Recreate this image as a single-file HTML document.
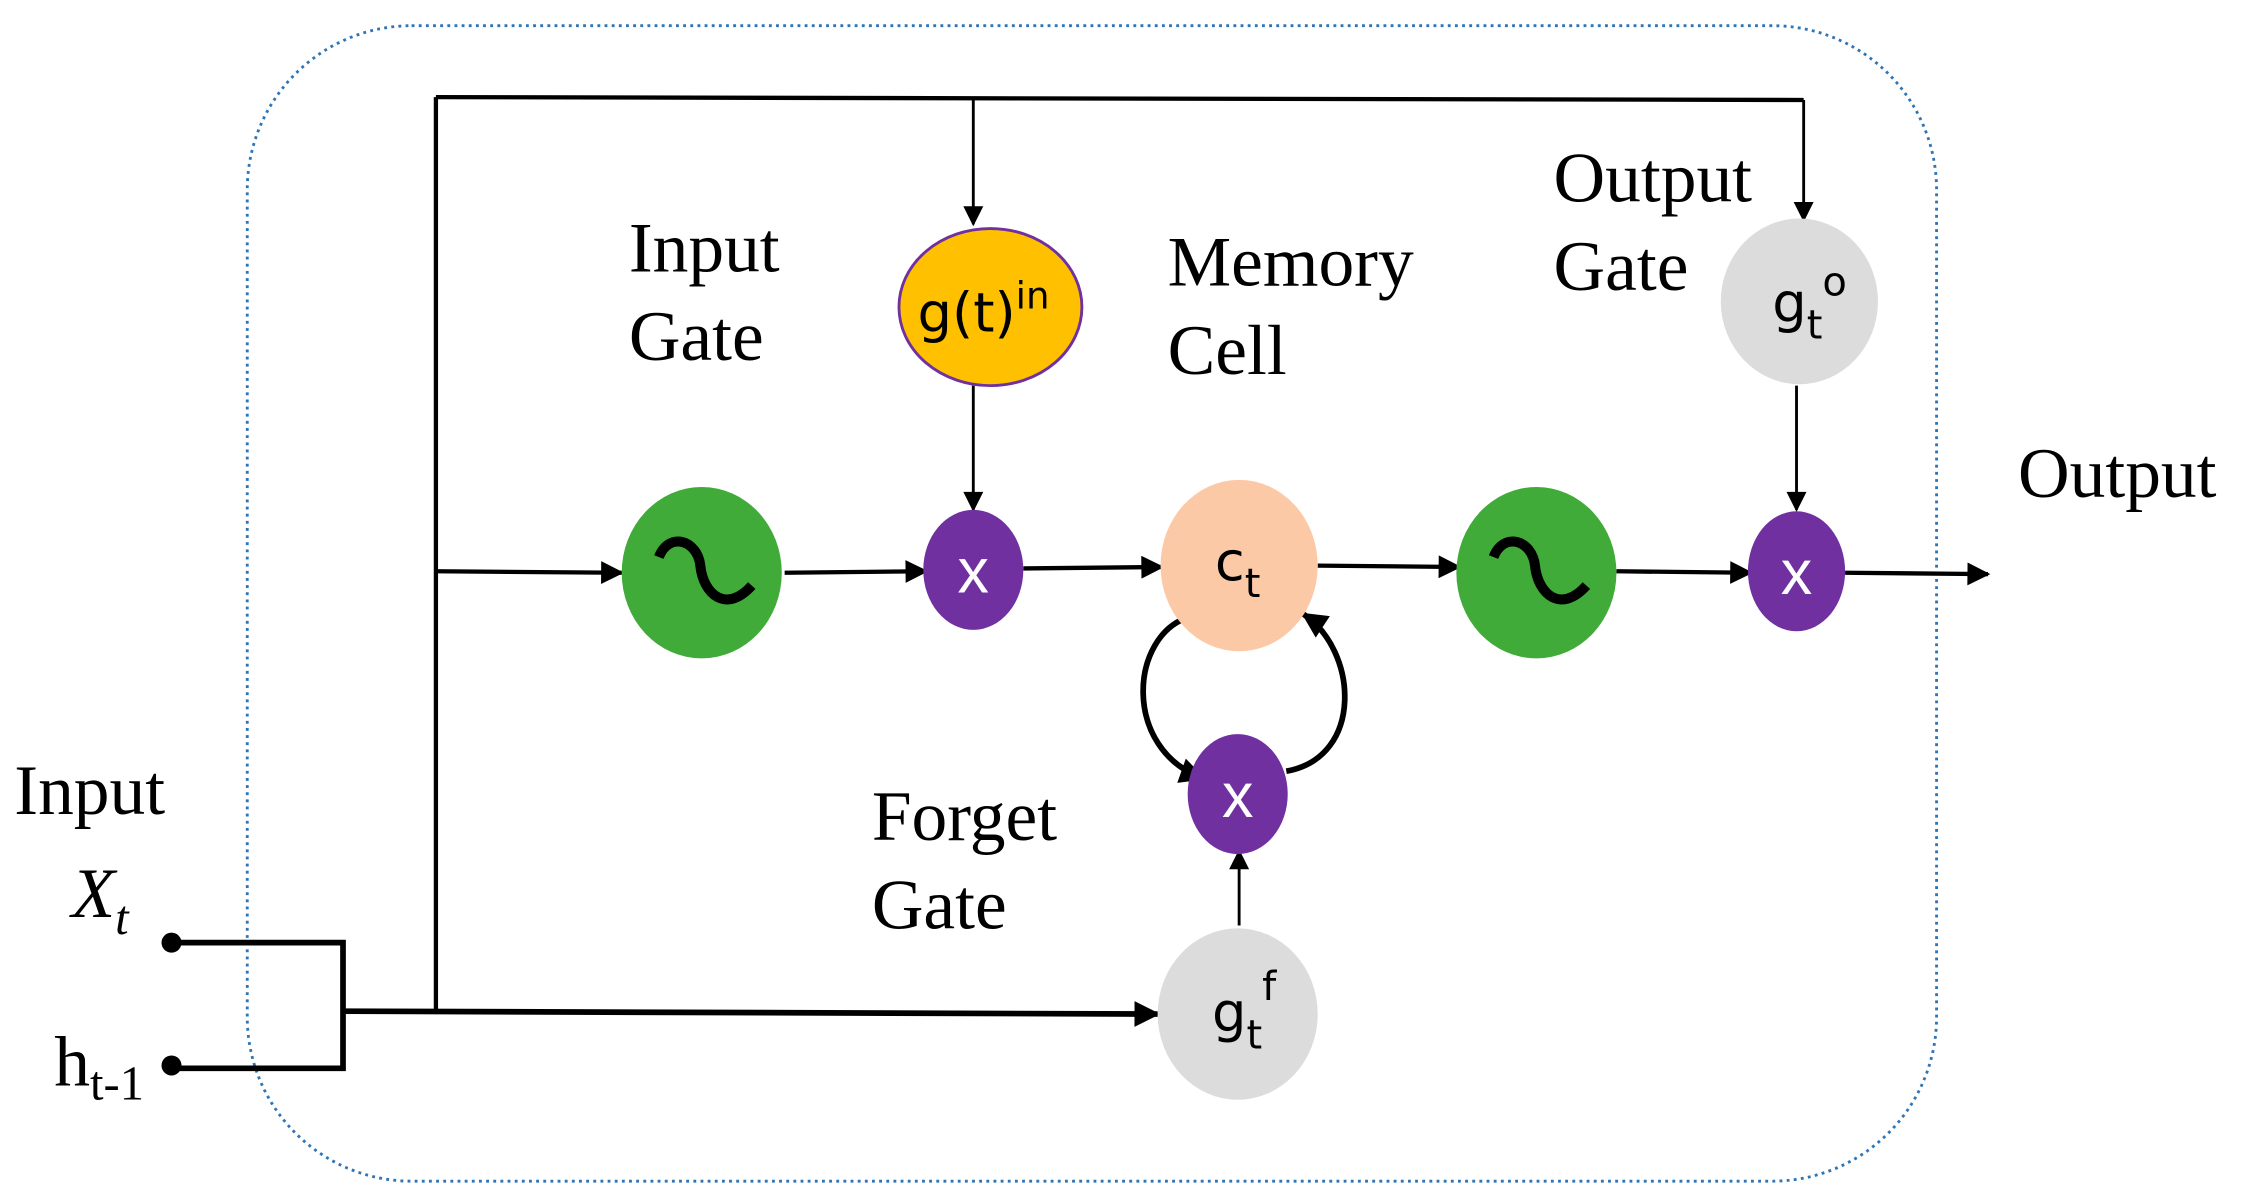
<!DOCTYPE html>
<html><head><meta charset="utf-8"><style>
html,body{margin:0;padding:0;background:#fff;}
svg{display:block;}
.s{font-family:"Liberation Serif",serif;font-size:50px;fill:#000;}
.n{font-family:"DejaVu Sans","Liberation Sans",sans-serif;fill:#000;}
.w{font-family:"Liberation Sans",sans-serif;fill:#fff;font-size:44px;}
</style></head><body>
<svg width="2241" height="1204" viewBox="0 0 1568 843" preserveAspectRatio="none" xmlns="http://www.w3.org/2000/svg">
<defs>
<marker id="a" viewBox="0 0 10 10" refX="9" refY="5" markerWidth="18" markerHeight="16" orient="auto" markerUnits="userSpaceOnUse"><path d="M0,0 L10,5 L0,10 z" fill="#000"/></marker>
<marker id="c" viewBox="0 0 10 10" refX="9" refY="5" markerWidth="16" markerHeight="14" orient="auto" markerUnits="userSpaceOnUse"><path d="M0,0 L10,5 L0,10 z" fill="#000"/></marker>
<marker id="b" viewBox="0 0 10 10" refX="9" refY="5" markerWidth="20" markerHeight="18" orient="auto" markerUnits="userSpaceOnUse"><path d="M0,0 L10,5 L0,10 z" fill="#000"/></marker>
</defs>
<rect x="173" y="18" width="1182" height="809" rx="115" ry="115" fill="none" stroke="#2e75b6" stroke-width="2" stroke-dasharray="2,3"/>
<g stroke="#000" stroke-width="3" fill="none">
<path d="M305,68 L1262,70"/>
<path d="M305,68 L305,708"/>
<path d="M681,68 L681,157" stroke-width="2" marker-end="url(#c)"/>
<path d="M1262,70 L1262,154" stroke-width="2" marker-end="url(#c)"/>
<path d="M305,400 L435,401" marker-end="url(#a)"/>
<path d="M549,401 L648,400" marker-end="url(#a)"/>
<path d="M716,398 L813,397" marker-end="url(#a)"/>
<path d="M922,396 L1021,397" marker-end="url(#a)"/>
<path d="M1131,400 L1225,401" marker-end="url(#a)"/>
<path d="M1291,401 L1391,402" marker-end="url(#a)"/>
<path d="M681,270 L681,357" stroke-width="2" marker-end="url(#c)"/>
<path d="M1257,270 L1257,357" stroke-width="2" marker-end="url(#c)"/>
<path d="M867,648 L867,596" stroke-width="2" marker-end="url(#c)"/>
<path d="M120,660 L240,660 L240,748 L120,748" stroke-width="4"/>
<path d="M240,708 L810,710" stroke-width="4" marker-end="url(#b)"/>
<path d="M832,432 C790,445 785,525 842,545" stroke-width="4" marker-end="url(#b)"/>
<path d="M900,540 C955,530 950,455 912,430" stroke-width="4" marker-end="url(#b)"/>
</g>
<circle cx="120" cy="660" r="7" fill="#000"/>
<circle cx="120" cy="746" r="7" fill="#000"/>
<ellipse cx="693" cy="215" rx="64" ry="55" fill="#ffc000" stroke="#7030a0" stroke-width="2"/>
<text class="n" x="642" y="232" font-size="38">g(t)<tspan font-size="26" dy="-16">in</tspan></text>
<ellipse cx="1259" cy="211" rx="55" ry="58" fill="#dcdcdc"/>
<text class="n" x="1240" y="225" font-size="38">g<tspan font-size="28" dy="12">t</tspan><tspan font-size="28" dy="-30">o</tspan></text>
<ellipse cx="491" cy="401" rx="56" ry="60" fill="#41ab3a"/>
<ellipse cx="1075" cy="401" rx="56" ry="60" fill="#41ab3a"/>
<path d="M461,390 C468,372 488,378 490,396 C492,416 508,430 526,410" stroke="#000" stroke-width="7" fill="none"/>
<path d="M1045,390 C1052,372 1072,378 1074,396 C1076,416 1092,430 1110,410" stroke="#000" stroke-width="7" fill="none"/>
<ellipse cx="681" cy="399" rx="35" ry="42" fill="#7030a0"/>
<ellipse cx="1257" cy="400" rx="34" ry="42" fill="#7030a0"/>
<ellipse cx="866" cy="556" rx="35" ry="42" fill="#7030a0"/>
<text class="w" x="681" y="415" text-anchor="middle">x</text>
<text class="w" x="1257" y="416" text-anchor="middle">x</text>
<text class="w" x="866" y="572" text-anchor="middle">x</text>
<ellipse cx="867" cy="396" rx="55" ry="60" fill="#fcc9a7"/>
<text class="n" x="850" y="406" font-size="38">c<tspan font-size="28" dy="12">t</tspan></text>
<ellipse cx="866" cy="710" rx="56" ry="60" fill="#dcdcdc"/>
<text class="n" x="848" y="722" font-size="38">g<tspan font-size="28" dy="12">t</tspan><tspan font-size="28" dy="-34">f</tspan></text>
<text class="s" x="440" y="190">Input</text>
<text class="s" x="440" y="252">Gate</text>
<text class="s" x="817" y="200">Memory</text>
<text class="s" x="817" y="262">Cell</text>
<text class="s" x="1087" y="141">Output</text>
<text class="s" x="1087" y="203">Gate</text>
<text class="s" x="1412" y="348">Output</text>
<text class="s" x="10" y="570">Input</text>
<text class="s" x="610" y="588">Forget</text>
<text class="s" x="610" y="650">Gate</text>
<text class="s" x="50" y="642" font-style="italic">X<tspan font-size="34" dy="12">t</tspan></text>
<text class="s" x="38" y="760">h<tspan font-size="34" dy="10">t-1</tspan></text>
</svg>
</body></html>
